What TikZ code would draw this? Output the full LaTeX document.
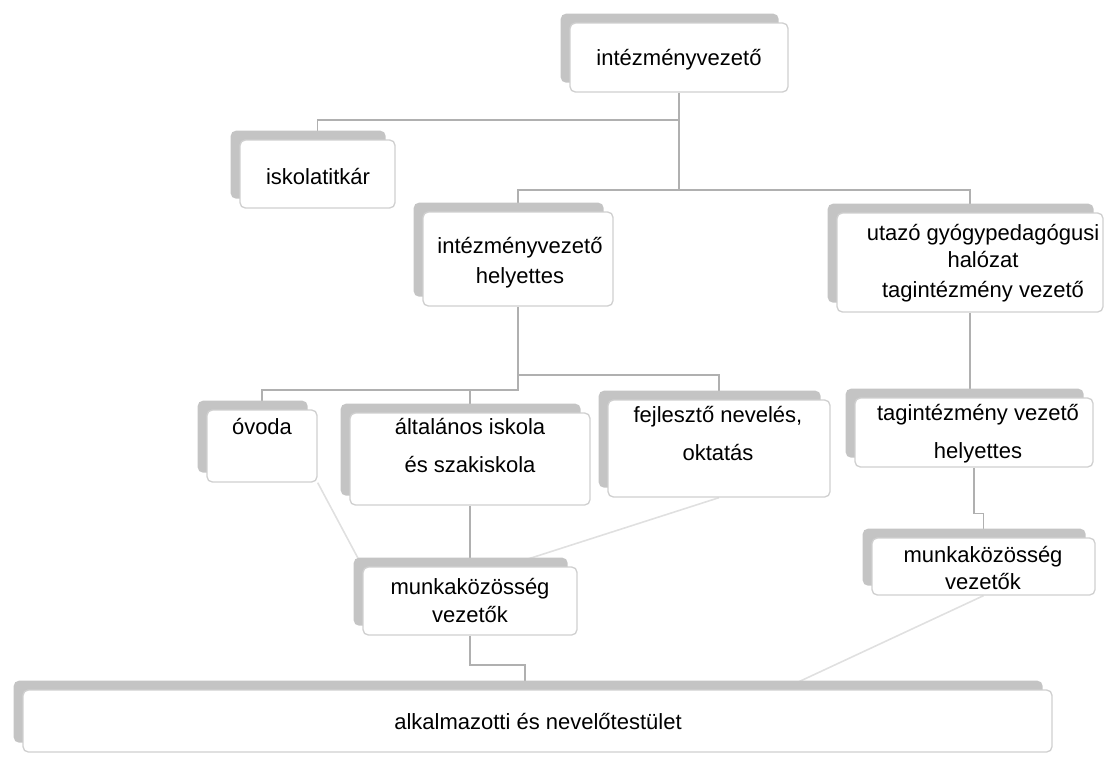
\documentclass[tikz,border=0pt]{standalone}
\usepackage{fontspec}
\setmainfont{Liberation Sans}
\usetikzlibrary{calc,fit,shadows,backgrounds}

\definecolor{boxline}{HTML}{D0D0D0}
\definecolor{shade}{HTML}{C4C4C4}
\definecolor{wire}{HTML}{B0B0B0}
\definecolor{wirefaint}{HTML}{E0E0E0}

\tikzset{
  box/.style={draw=boxline, line width=1pt, fill=white, rounded corners=4pt, inner sep=0pt,
    general shadow={fill=shade, shadow xshift=-7pt, shadow yshift=7pt}},
  lbl/.style={align=center, font=\fontsize{16.5}{20}\selectfont, inner sep=0pt},
  conn/.style={draw=wire, line width=1.2pt},
  faint/.style={draw=wirefaint, line width=1.2pt}
}

\begin{document}
\begin{tikzpicture}[x=0.75pt, y=-0.75pt]
\useasboundingbox (0,0) rectangle (1115,757);
% boxes
\node[box, fit={(570,23) (788,92)}] (iv) {};
\node[lbl] (iv-t) at (679,60) {intézményvezető};
\node[box, fit={(240,140) (395,208)}] (titkar) {};
\node[lbl] (titkar-t) at (318,177) {iskolatitkár};
\node[box, fit={(423,212) (613,306)}] (helyettes) {};
\node[lbl] (helyettes-t) at (520,263) {intézményvezető\\[2.5pt]helyettes};
\node[box, fit={(837,213) (1103,312)}] (utazo) {};
\node[lbl] (utazo-t) at (983,263) {utazó gyógypedagógusi\\halózat\\[2.5pt]tagintézmény vezető};
\node[box, fit={(855,398) (1093,467)}] (tagh) {};
\node[lbl] (tagh-t) at (978,434) {tagintézmény vezető\\[8.5pt]helyettes};
\node[box, fit={(207,410) (317,482)}] (ovoda) {};
\node[lbl] (ovoda-t) at (262,427) {óvoda};
\node[box, fit={(350,413) (590,505)}] (altalanos) {};
\node[lbl] (altalanos-t) at (470,446) {általános iskola\\[8.5pt]és szakiskola};
\node[box, fit={(608,400) (830,497)}] (fejleszto) {};
\node[lbl] (fejleszto-t) at (718,434) {fejlesztő nevelés,\\[8.5pt]oktatás};
\node[box, fit={(363,567) (577,635)}] (munka1) {};
\node[lbl] (munka1-t) at (470,601) {munkaközösség\\[1pt]vezetők};
\node[box, fit={(872,538) (1095,595)}] (munka2) {};
\node[lbl] (munka2-t) at (983,568) {munkaközösség\\vezetők};
\node[box, fit={(23,690) (1052,752)}] (testulet) {};
\node[lbl] (testulet-t) at (538,722) {alkalmazotti és nevelőtestület};

% connectors
\begin{scope}[on background layer]
\coordinate (j1) at (iv.south |- 0,120);
\coordinate (j2) at (iv.south |- 0,190);
\draw[conn] (iv.south) -- (j1) -| (titkar.north);
\draw[conn] (j1) -- (j2);
\draw[conn] (helyettes.north) |- (j2) -| (utazo.north);
\coordinate (j3) at (helyettes.south |- 0,390);
\coordinate (j4) at (helyettes.south |- 0,375);
\draw[conn] (helyettes.south) -- (j3) -| (ovoda.north);
\draw[conn] (j3) -| (altalanos.north);
\draw[conn] (j4) -| (fejleszto.north);
\draw[conn] (altalanos.south) -- (munka1.north);
\draw[faint] (ovoda.south east) -- (munka1.north west);
\draw[faint] (fejleszto.south) -- ($(munka1.north)+(35,0)$);
\coordinate (j5) at (525,665);
\draw[conn] (munka1.south) |- (j5) -- (testulet.north -| j5);
\draw[conn] (utazo.south) -- (utazo.south |- tagh.north);
\draw[conn] (tagh.south) -- ++(0,46) -| (munka2.north);
\draw[faint] (munka2.south) -- ($(testulet.north)+(245,0)$);
\end{scope}
\end{tikzpicture}
\end{document}
